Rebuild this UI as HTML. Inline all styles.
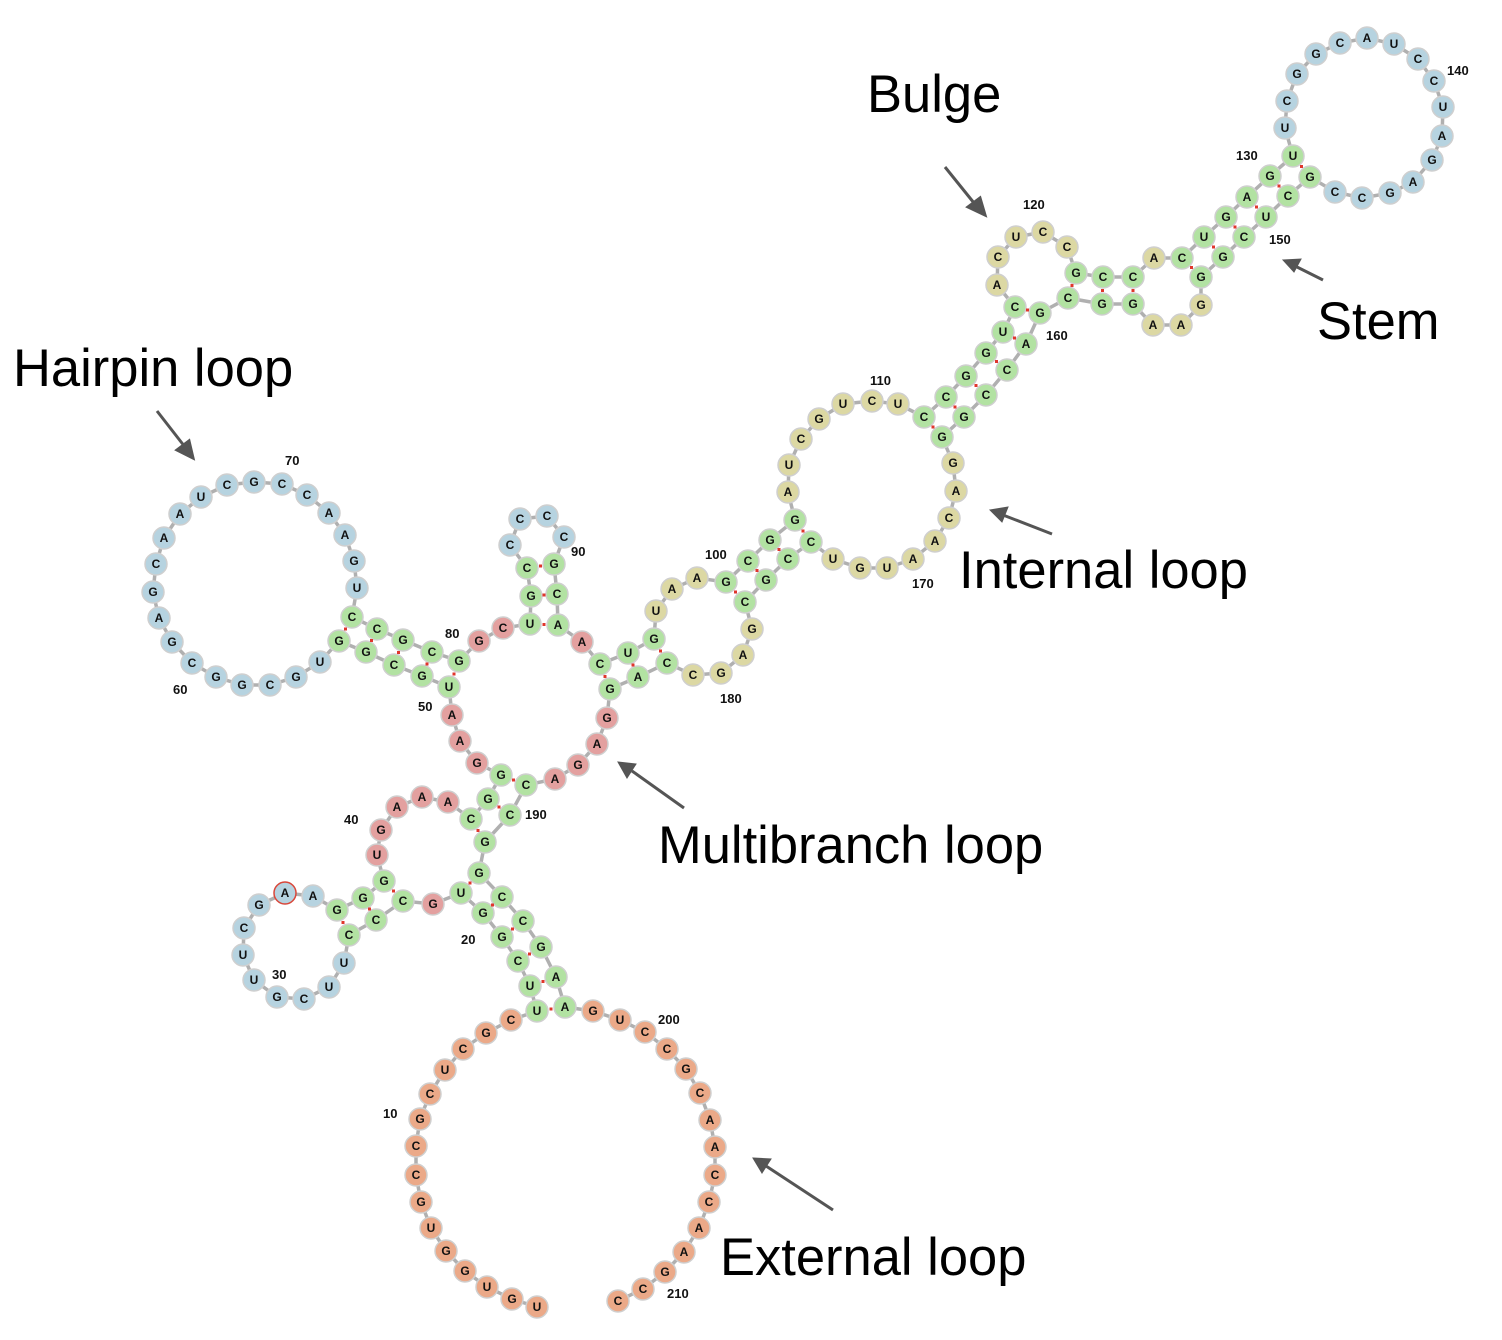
<!DOCTYPE html>
<html><head><meta charset="utf-8"><style>
html,body{margin:0;padding:0;background:#fff;}
svg{display:block;}
.n circle{stroke:#cfcfcf;stroke-width:1.5;}
.g circle{fill:#b2e2a2}.b circle{fill:#b6d3e0}.r circle{fill:#e3a09f}.t circle{fill:#dcd8a3}.o circle{fill:#eba988}
.n text{font:bold 12px "Liberation Sans",sans-serif;text-anchor:middle;fill:#111;}
.lab{font:bold 13px "Liberation Sans",sans-serif;fill:#111;}
.big{font:52.5px "Liberation Sans",sans-serif;fill:#000;}
</style></head><body>
<svg id="s" width="1502" height="1340" viewBox="0 0 1502 1340" xmlns="http://www.w3.org/2000/svg">
<g id="bb"></g>
<g id="nuc">
<g class="n o"><circle cx="537" cy="1307" r="11"/><text x="537" y="1311">U</text></g>
<g class="n o"><circle cx="512" cy="1299" r="11"/><text x="512" y="1303">G</text></g>
<g class="n o"><circle cx="487" cy="1287" r="11"/><text x="487" y="1291">U</text></g>
<g class="n o"><circle cx="465" cy="1271" r="11"/><text x="465" y="1275">G</text></g>
<g class="n o"><circle cx="446" cy="1251" r="11"/><text x="446" y="1255">G</text></g>
<g class="n o"><circle cx="431" cy="1228" r="11"/><text x="431" y="1232">U</text></g>
<g class="n o"><circle cx="421" cy="1202" r="11"/><text x="421" y="1206">G</text></g>
<g class="n o"><circle cx="416" cy="1175" r="11"/><text x="416" y="1179">C</text></g>
<g class="n o"><circle cx="416" cy="1146" r="11"/><text x="416" y="1150">C</text></g>
<g class="n o"><circle cx="420" cy="1119" r="11"/><text x="420" y="1123">G</text></g>
<g class="n o"><circle cx="430" cy="1094" r="11"/><text x="430" y="1098">C</text></g>
<g class="n o"><circle cx="445" cy="1070" r="11"/><text x="445" y="1074">U</text></g>
<g class="n o"><circle cx="463" cy="1049" r="11"/><text x="463" y="1053">C</text></g>
<g class="n o"><circle cx="486" cy="1033" r="11"/><text x="486" y="1037">G</text></g>
<g class="n o"><circle cx="511" cy="1020" r="11"/><text x="511" y="1024">C</text></g>
<g class="n g"><circle cx="537" cy="1011" r="11"/><text x="537" y="1015">U</text></g>
<g class="n g"><circle cx="530" cy="986" r="11"/><text x="530" y="990">U</text></g>
<g class="n g"><circle cx="518" cy="961" r="11"/><text x="518" y="965">C</text></g>
<g class="n g"><circle cx="502" cy="937" r="11"/><text x="502" y="941">G</text></g>
<g class="n g"><circle cx="483" cy="913" r="11"/><text x="483" y="917">G</text></g>
<g class="n g"><circle cx="461" cy="893" r="11"/><text x="461" y="897">U</text></g>
<g class="n r"><circle cx="433" cy="904" r="11"/><text x="433" y="908">G</text></g>
<g class="n g"><circle cx="403" cy="901" r="11"/><text x="403" y="905">C</text></g>
<g class="n g"><circle cx="376" cy="920" r="11"/><text x="376" y="924">C</text></g>
<g class="n g"><circle cx="349" cy="935" r="11"/><text x="349" y="939">C</text></g>
<g class="n b"><circle cx="344" cy="963" r="11"/><text x="344" y="967">U</text></g>
<g class="n b"><circle cx="329" cy="987" r="11"/><text x="329" y="991">U</text></g>
<g class="n b"><circle cx="304" cy="999" r="11"/><text x="304" y="1003">C</text></g>
<g class="n b"><circle cx="277" cy="997" r="11"/><text x="277" y="1001">G</text></g>
<g class="n b"><circle cx="254" cy="980" r="11"/><text x="254" y="984">U</text></g>
<g class="n b"><circle cx="243" cy="955" r="11"/><text x="243" y="959">U</text></g>
<g class="n b"><circle cx="244" cy="928" r="11"/><text x="244" y="932">C</text></g>
<g class="n b"><circle cx="259" cy="905" r="11"/><text x="259" y="909">G</text></g>
<g class="n b"><circle cx="285" cy="893" r="11" style="stroke:#d9473a"/><text x="285" y="897">A</text></g>
<g class="n b"><circle cx="313" cy="896" r="11"/><text x="313" y="900">A</text></g>
<g class="n g"><circle cx="337" cy="910" r="11"/><text x="337" y="914">G</text></g>
<g class="n g"><circle cx="363" cy="898" r="11"/><text x="363" y="902">G</text></g>
<g class="n g"><circle cx="384" cy="881" r="11"/><text x="384" y="885">G</text></g>
<g class="n r"><circle cx="377" cy="855" r="11"/><text x="377" y="859">U</text></g>
<g class="n r"><circle cx="381" cy="830" r="11"/><text x="381" y="834">G</text></g>
<g class="n r"><circle cx="397" cy="807" r="11"/><text x="397" y="811">A</text></g>
<g class="n r"><circle cx="422" cy="797" r="11"/><text x="422" y="801">A</text></g>
<g class="n r"><circle cx="448" cy="802" r="11"/><text x="448" y="806">A</text></g>
<g class="n g"><circle cx="471" cy="819" r="11"/><text x="471" y="823">C</text></g>
<g class="n g"><circle cx="488" cy="799" r="11"/><text x="488" y="803">G</text></g>
<g class="n g"><circle cx="501" cy="775" r="11"/><text x="501" y="779">G</text></g>
<g class="n r"><circle cx="477" cy="763" r="11"/><text x="477" y="767">G</text></g>
<g class="n r"><circle cx="460" cy="741" r="11"/><text x="460" y="745">A</text></g>
<g class="n r"><circle cx="452" cy="715" r="11"/><text x="452" y="719">A</text></g>
<g class="n g"><circle cx="449" cy="687" r="11"/><text x="449" y="691">U</text></g>
<g class="n g"><circle cx="422" cy="676" r="11"/><text x="422" y="680">G</text></g>
<g class="n g"><circle cx="394" cy="665" r="11"/><text x="394" y="669">C</text></g>
<g class="n g"><circle cx="366" cy="652" r="11"/><text x="366" y="656">G</text></g>
<g class="n g"><circle cx="339" cy="641" r="11"/><text x="339" y="645">G</text></g>
<g class="n b"><circle cx="320" cy="662" r="11"/><text x="320" y="666">U</text></g>
<g class="n b"><circle cx="296" cy="677" r="11"/><text x="296" y="681">G</text></g>
<g class="n b"><circle cx="270" cy="685" r="11"/><text x="270" y="689">C</text></g>
<g class="n b"><circle cx="242" cy="685" r="11"/><text x="242" y="689">G</text></g>
<g class="n b"><circle cx="216" cy="677" r="11"/><text x="216" y="681">G</text></g>
<g class="n b"><circle cx="192" cy="663" r="11"/><text x="192" y="667">C</text></g>
<g class="n b"><circle cx="172" cy="642" r="11"/><text x="172" y="646">G</text></g>
<g class="n b"><circle cx="159" cy="618" r="11"/><text x="159" y="622">A</text></g>
<g class="n b"><circle cx="153" cy="592" r="11"/><text x="153" y="596">G</text></g>
<g class="n b"><circle cx="156" cy="564" r="11"/><text x="156" y="568">C</text></g>
<g class="n b"><circle cx="164" cy="538" r="11"/><text x="164" y="542">A</text></g>
<g class="n b"><circle cx="180" cy="514" r="11"/><text x="180" y="518">A</text></g>
<g class="n b"><circle cx="201" cy="497" r="11"/><text x="201" y="501">U</text></g>
<g class="n b"><circle cx="227" cy="485" r="11"/><text x="227" y="489">C</text></g>
<g class="n b"><circle cx="254" cy="482" r="11"/><text x="254" y="486">G</text></g>
<g class="n b"><circle cx="282" cy="484" r="11"/><text x="282" y="488">C</text></g>
<g class="n b"><circle cx="307" cy="495" r="11"/><text x="307" y="499">C</text></g>
<g class="n b"><circle cx="329" cy="513" r="11"/><text x="329" y="517">A</text></g>
<g class="n b"><circle cx="345" cy="535" r="11"/><text x="345" y="539">A</text></g>
<g class="n b"><circle cx="354" cy="561" r="11"/><text x="354" y="565">G</text></g>
<g class="n b"><circle cx="357" cy="588" r="11"/><text x="357" y="592">U</text></g>
<g class="n g"><circle cx="352" cy="617" r="11"/><text x="352" y="621">C</text></g>
<g class="n g"><circle cx="377" cy="629" r="11"/><text x="377" y="633">C</text></g>
<g class="n g"><circle cx="403" cy="640" r="11"/><text x="403" y="644">G</text></g>
<g class="n g"><circle cx="432" cy="652" r="11"/><text x="432" y="656">C</text></g>
<g class="n g"><circle cx="459" cy="661" r="11"/><text x="459" y="665">G</text></g>
<g class="n r"><circle cx="479" cy="641" r="11"/><text x="479" y="645">G</text></g>
<g class="n r"><circle cx="503" cy="628" r="11"/><text x="503" y="632">C</text></g>
<g class="n g"><circle cx="530" cy="624" r="11"/><text x="530" y="628">U</text></g>
<g class="n g"><circle cx="531" cy="596" r="11"/><text x="531" y="600">G</text></g>
<g class="n g"><circle cx="527" cy="568" r="11"/><text x="527" y="572">C</text></g>
<g class="n b"><circle cx="510" cy="545" r="11"/><text x="510" y="549">C</text></g>
<g class="n b"><circle cx="520" cy="519" r="11"/><text x="520" y="523">C</text></g>
<g class="n b"><circle cx="547" cy="516" r="11"/><text x="547" y="520">C</text></g>
<g class="n b"><circle cx="564" cy="537" r="11"/><text x="564" y="541">C</text></g>
<g class="n g"><circle cx="554" cy="564" r="11"/><text x="554" y="568">G</text></g>
<g class="n g"><circle cx="557" cy="594" r="11"/><text x="557" y="598">C</text></g>
<g class="n g"><circle cx="558" cy="625" r="11"/><text x="558" y="629">A</text></g>
<g class="n r"><circle cx="582" cy="642" r="11"/><text x="582" y="646">A</text></g>
<g class="n g"><circle cx="600" cy="664" r="11"/><text x="600" y="668">C</text></g>
<g class="n g"><circle cx="628" cy="653" r="11"/><text x="628" y="657">U</text></g>
<g class="n g"><circle cx="654" cy="639" r="11"/><text x="654" y="643">G</text></g>
<g class="n t"><circle cx="656" cy="611" r="11"/><text x="656" y="615">U</text></g>
<g class="n t"><circle cx="672" cy="589" r="11"/><text x="672" y="593">A</text></g>
<g class="n t"><circle cx="697" cy="578" r="11"/><text x="697" y="582">A</text></g>
<g class="n g"><circle cx="726" cy="582" r="11"/><text x="726" y="586">G</text></g>
<g class="n g"><circle cx="748" cy="561" r="11"/><text x="748" y="565">C</text></g>
<g class="n g"><circle cx="770" cy="540" r="11"/><text x="770" y="544">G</text></g>
<g class="n g"><circle cx="795" cy="520" r="11"/><text x="795" y="524">G</text></g>
<g class="n t"><circle cx="788" cy="492" r="11"/><text x="788" y="496">A</text></g>
<g class="n t"><circle cx="789" cy="465" r="11"/><text x="789" y="469">U</text></g>
<g class="n t"><circle cx="801" cy="439" r="11"/><text x="801" y="443">C</text></g>
<g class="n t"><circle cx="819" cy="419" r="11"/><text x="819" y="423">G</text></g>
<g class="n t"><circle cx="843" cy="404" r="11"/><text x="843" y="408">U</text></g>
<g class="n t"><circle cx="872" cy="401" r="11"/><text x="872" y="405">C</text></g>
<g class="n t"><circle cx="898" cy="404" r="11"/><text x="898" y="408">U</text></g>
<g class="n g"><circle cx="924" cy="417" r="11"/><text x="924" y="421">C</text></g>
<g class="n g"><circle cx="946" cy="397" r="11"/><text x="946" y="401">C</text></g>
<g class="n g"><circle cx="966" cy="376" r="11"/><text x="966" y="380">G</text></g>
<g class="n g"><circle cx="986" cy="353" r="11"/><text x="986" y="357">G</text></g>
<g class="n g"><circle cx="1003" cy="332" r="11"/><text x="1003" y="336">U</text></g>
<g class="n g"><circle cx="1015" cy="307" r="11"/><text x="1015" y="311">C</text></g>
<g class="n t"><circle cx="997" cy="285" r="11"/><text x="997" y="289">A</text></g>
<g class="n t"><circle cx="998" cy="257" r="11"/><text x="998" y="261">C</text></g>
<g class="n t"><circle cx="1016" cy="237" r="11"/><text x="1016" y="241">U</text></g>
<g class="n t"><circle cx="1043" cy="232" r="11"/><text x="1043" y="236">C</text></g>
<g class="n t"><circle cx="1067" cy="247" r="11"/><text x="1067" y="251">C</text></g>
<g class="n g"><circle cx="1076" cy="273" r="11"/><text x="1076" y="277">G</text></g>
<g class="n g"><circle cx="1103" cy="277" r="11"/><text x="1103" y="281">C</text></g>
<g class="n g"><circle cx="1133" cy="277" r="11"/><text x="1133" y="281">C</text></g>
<g class="n t"><circle cx="1154" cy="258" r="11"/><text x="1154" y="262">A</text></g>
<g class="n g"><circle cx="1182" cy="258" r="11"/><text x="1182" y="262">C</text></g>
<g class="n g"><circle cx="1204" cy="237" r="11"/><text x="1204" y="241">U</text></g>
<g class="n g"><circle cx="1226" cy="217" r="11"/><text x="1226" y="221">G</text></g>
<g class="n g"><circle cx="1247" cy="197" r="11"/><text x="1247" y="201">A</text></g>
<g class="n g"><circle cx="1270" cy="176" r="11"/><text x="1270" y="180">G</text></g>
<g class="n g"><circle cx="1293" cy="156" r="11"/><text x="1293" y="160">U</text></g>
<g class="n b"><circle cx="1285" cy="128" r="11"/><text x="1285" y="132">U</text></g>
<g class="n b"><circle cx="1287" cy="101" r="11"/><text x="1287" y="105">C</text></g>
<g class="n b"><circle cx="1297" cy="74" r="11"/><text x="1297" y="78">G</text></g>
<g class="n b"><circle cx="1316" cy="54" r="11"/><text x="1316" y="58">G</text></g>
<g class="n b"><circle cx="1340" cy="43" r="11"/><text x="1340" y="47">C</text></g>
<g class="n b"><circle cx="1367" cy="38" r="11"/><text x="1367" y="42">A</text></g>
<g class="n b"><circle cx="1394" cy="44" r="11"/><text x="1394" y="48">U</text></g>
<g class="n b"><circle cx="1418" cy="59" r="11"/><text x="1418" y="63">C</text></g>
<g class="n b"><circle cx="1434" cy="81" r="11"/><text x="1434" y="85">C</text></g>
<g class="n b"><circle cx="1443" cy="107" r="11"/><text x="1443" y="111">U</text></g>
<g class="n b"><circle cx="1442" cy="136" r="11"/><text x="1442" y="140">A</text></g>
<g class="n b"><circle cx="1432" cy="160" r="11"/><text x="1432" y="164">G</text></g>
<g class="n b"><circle cx="1413" cy="182" r="11"/><text x="1413" y="186">A</text></g>
<g class="n b"><circle cx="1390" cy="193" r="11"/><text x="1390" y="197">G</text></g>
<g class="n b"><circle cx="1362" cy="198" r="11"/><text x="1362" y="202">C</text></g>
<g class="n b"><circle cx="1335" cy="192" r="11"/><text x="1335" y="196">C</text></g>
<g class="n g"><circle cx="1310" cy="177" r="11"/><text x="1310" y="181">G</text></g>
<g class="n g"><circle cx="1288" cy="196" r="11"/><text x="1288" y="200">C</text></g>
<g class="n g"><circle cx="1266" cy="217" r="11"/><text x="1266" y="221">U</text></g>
<g class="n g"><circle cx="1244" cy="237" r="11"/><text x="1244" y="241">C</text></g>
<g class="n g"><circle cx="1223" cy="257" r="11"/><text x="1223" y="261">G</text></g>
<g class="n g"><circle cx="1201" cy="277" r="11"/><text x="1201" y="281">G</text></g>
<g class="n t"><circle cx="1201" cy="305" r="11"/><text x="1201" y="309">G</text></g>
<g class="n t"><circle cx="1181" cy="325" r="11"/><text x="1181" y="329">A</text></g>
<g class="n t"><circle cx="1153" cy="325" r="11"/><text x="1153" y="329">A</text></g>
<g class="n g"><circle cx="1133" cy="304" r="11"/><text x="1133" y="308">G</text></g>
<g class="n g"><circle cx="1102" cy="304" r="11"/><text x="1102" y="308">G</text></g>
<g class="n g"><circle cx="1068" cy="298" r="11"/><text x="1068" y="302">C</text></g>
<g class="n g"><circle cx="1040" cy="313" r="11"/><text x="1040" y="317">G</text></g>
<g class="n g"><circle cx="1026" cy="344" r="11"/><text x="1026" y="348">A</text></g>
<g class="n g"><circle cx="1007" cy="370" r="11"/><text x="1007" y="374">C</text></g>
<g class="n g"><circle cx="986" cy="395" r="11"/><text x="986" y="399">C</text></g>
<g class="n g"><circle cx="964" cy="417" r="11"/><text x="964" y="421">G</text></g>
<g class="n g"><circle cx="942" cy="437" r="11"/><text x="942" y="441">G</text></g>
<g class="n t"><circle cx="953" cy="463" r="11"/><text x="953" y="467">G</text></g>
<g class="n t"><circle cx="956" cy="491" r="11"/><text x="956" y="495">A</text></g>
<g class="n t"><circle cx="949" cy="518" r="11"/><text x="949" y="522">C</text></g>
<g class="n t"><circle cx="935" cy="541" r="11"/><text x="935" y="545">A</text></g>
<g class="n t"><circle cx="913" cy="559" r="11"/><text x="913" y="563">A</text></g>
<g class="n t"><circle cx="887" cy="568" r="11"/><text x="887" y="572">U</text></g>
<g class="n t"><circle cx="860" cy="568" r="11"/><text x="860" y="572">G</text></g>
<g class="n t"><circle cx="833" cy="559" r="11"/><text x="833" y="563">U</text></g>
<g class="n g"><circle cx="811" cy="542" r="11"/><text x="811" y="546">C</text></g>
<g class="n g"><circle cx="788" cy="559" r="11"/><text x="788" y="563">C</text></g>
<g class="n g"><circle cx="766" cy="580" r="11"/><text x="766" y="584">G</text></g>
<g class="n g"><circle cx="745" cy="602" r="11"/><text x="745" y="606">C</text></g>
<g class="n t"><circle cx="752" cy="629" r="11"/><text x="752" y="633">G</text></g>
<g class="n t"><circle cx="743" cy="655" r="11"/><text x="743" y="659">A</text></g>
<g class="n t"><circle cx="721" cy="673" r="11"/><text x="721" y="677">G</text></g>
<g class="n t"><circle cx="693" cy="675" r="11"/><text x="693" y="679">C</text></g>
<g class="n g"><circle cx="667" cy="663" r="11"/><text x="667" y="667">C</text></g>
<g class="n g"><circle cx="638" cy="677" r="11"/><text x="638" y="681">A</text></g>
<g class="n g"><circle cx="610" cy="689" r="11"/><text x="610" y="693">G</text></g>
<g class="n r"><circle cx="607" cy="718" r="11"/><text x="607" y="722">G</text></g>
<g class="n r"><circle cx="597" cy="744" r="11"/><text x="597" y="748">A</text></g>
<g class="n r"><circle cx="578" cy="765" r="11"/><text x="578" y="769">G</text></g>
<g class="n r"><circle cx="555" cy="779" r="11"/><text x="555" y="783">A</text></g>
<g class="n g"><circle cx="526" cy="785" r="11"/><text x="526" y="789">C</text></g>
<g class="n g"><circle cx="510" cy="815" r="11"/><text x="510" y="819">C</text></g>
<g class="n g"><circle cx="485" cy="842" r="11"/><text x="485" y="846">G</text></g>
<g class="n g"><circle cx="479" cy="873" r="11"/><text x="479" y="877">G</text></g>
<g class="n g"><circle cx="502" cy="897" r="11"/><text x="502" y="901">C</text></g>
<g class="n g"><circle cx="523" cy="921" r="11"/><text x="523" y="925">C</text></g>
<g class="n g"><circle cx="541" cy="947" r="11"/><text x="541" y="951">G</text></g>
<g class="n g"><circle cx="556" cy="977" r="11"/><text x="556" y="981">A</text></g>
<g class="n g"><circle cx="565" cy="1007" r="11"/><text x="565" y="1011">A</text></g>
<g class="n o"><circle cx="593" cy="1011" r="11"/><text x="593" y="1015">G</text></g>
<g class="n o"><circle cx="620" cy="1020" r="11"/><text x="620" y="1024">U</text></g>
<g class="n o"><circle cx="645" cy="1032" r="11"/><text x="645" y="1036">C</text></g>
<g class="n o"><circle cx="667" cy="1049" r="11"/><text x="667" y="1053">C</text></g>
<g class="n o"><circle cx="686" cy="1069" r="11"/><text x="686" y="1073">G</text></g>
<g class="n o"><circle cx="700" cy="1093" r="11"/><text x="700" y="1097">C</text></g>
<g class="n o"><circle cx="710" cy="1120" r="11"/><text x="710" y="1124">A</text></g>
<g class="n o"><circle cx="715" cy="1147" r="11"/><text x="715" y="1151">A</text></g>
<g class="n o"><circle cx="715" cy="1175" r="11"/><text x="715" y="1179">C</text></g>
<g class="n o"><circle cx="709" cy="1202" r="11"/><text x="709" y="1206">C</text></g>
<g class="n o"><circle cx="699" cy="1228" r="11"/><text x="699" y="1232">A</text></g>
<g class="n o"><circle cx="684" cy="1252" r="11"/><text x="684" y="1256">A</text></g>
<g class="n o"><circle cx="665" cy="1272" r="11"/><text x="665" y="1276">G</text></g>
<g class="n o"><circle cx="643" cy="1289" r="11"/><text x="643" y="1293">C</text></g>
<g class="n o"><circle cx="618" cy="1301" r="11"/><text x="618" y="1305">C</text></g>
</g>
<g id="pd"></g>
<g class="lab">
<text x="383" y="1118">10</text><text x="461" y="944">20</text><text x="272" y="979">30</text><text x="344" y="824">40</text>
<text x="418" y="711">50</text><text x="173" y="694">60</text><text x="285" y="465">70</text><text x="445" y="638">80</text>
<text x="571" y="556">90</text><text x="705" y="559">100</text><text x="870" y="385">110</text><text x="1023" y="209">120</text>
<text x="1236" y="160">130</text><text x="1447" y="75">140</text><text x="1269" y="244">150</text><text x="1046" y="340">160</text>
<text x="912" y="588">170</text><text x="720" y="703">180</text><text x="525" y="819">190</text><text x="658" y="1024">200</text>
<text x="667" y="1298">210</text>
</g>
<g stroke="#555" stroke-width="3" fill="#555">
<line x1="157" y1="411" x2="185" y2="447"/><polygon points="193,458 177,450 189,441"/>
<line x1="945" y1="167" x2="974" y2="203"/><polygon points="985,215 968,207 980,198"/>
<line x1="1323" y1="280" x2="1295" y2="266"/><polygon points="1283,260 1301,259 1294,272" stroke-width="1"/>
<line x1="1052" y1="534" x2="1003" y2="515"/><polygon points="990,510 1008,507 1002,522" stroke-width="1"/>
<line x1="684" y1="808" x2="632" y2="771"/><polygon points="618,762 636,764 627,778" stroke-width="1"/>
<line x1="833" y1="1210" x2="766" y2="1166"/><polygon points="753,1158 771,1159 762,1173" stroke-width="1"/>
</g>
<g class="big">
<text x="867" y="112">Bulge</text>
<text x="13" y="386">Hairpin loop</text>
<text x="1317" y="339">Stem</text>
<text x="959" y="588">Internal loop</text>
<text x="658" y="863">Multibranch loop</text>
<text x="720" y="1275">External loop</text>
</g>
</svg>
<script>
(function(){
var ns="http://www.w3.org/2000/svg";
var cs=document.querySelectorAll('#nuc circle');
var P=[];for(var i=0;i<cs.length;i++){P.push([+cs[i].getAttribute('cx'),+cs[i].getAttribute('cy')]);}
var bb=document.getElementById('bb');
var pl=document.createElementNS(ns,'polyline');
pl.setAttribute('points',P.map(function(p){return p.join(',')}).join(' '));
pl.setAttribute('fill','none');pl.setAttribute('stroke','#b0b0b0');pl.setAttribute('stroke-width','3.5');
bb.appendChild(pl);
var pairs=[[16,197],[17,196],[18,195],[19,194],[20,193],[21,192],[23,38],[24,37],[25,36],[44,191],[45,190],[46,189],[50,80],[51,79],[52,78],[53,77],[54,76],[83,92],[84,91],[85,90],[94,184],[95,183],[96,182],[100,177],[101,176],[102,175],[103,174],[111,165],[112,164],[113,163],[114,162],[115,161],[116,160],[122,159],[123,158],[124,157],[126,153],[127,152],[128,151],[129,150],[130,149],[131,148]];
var pd=document.getElementById('pd');
pairs.forEach(function(q){var a=P[q[0]-1],b=P[q[1]-1];var r=document.createElementNS(ns,'rect');
r.setAttribute('x',(a[0]+b[0])/2-1.5);r.setAttribute('y',(a[1]+b[1])/2-1.5);r.setAttribute('width',3);r.setAttribute('height',3);r.setAttribute('fill','#e0362c');pd.appendChild(r);});
})();
</script>
</body></html>
